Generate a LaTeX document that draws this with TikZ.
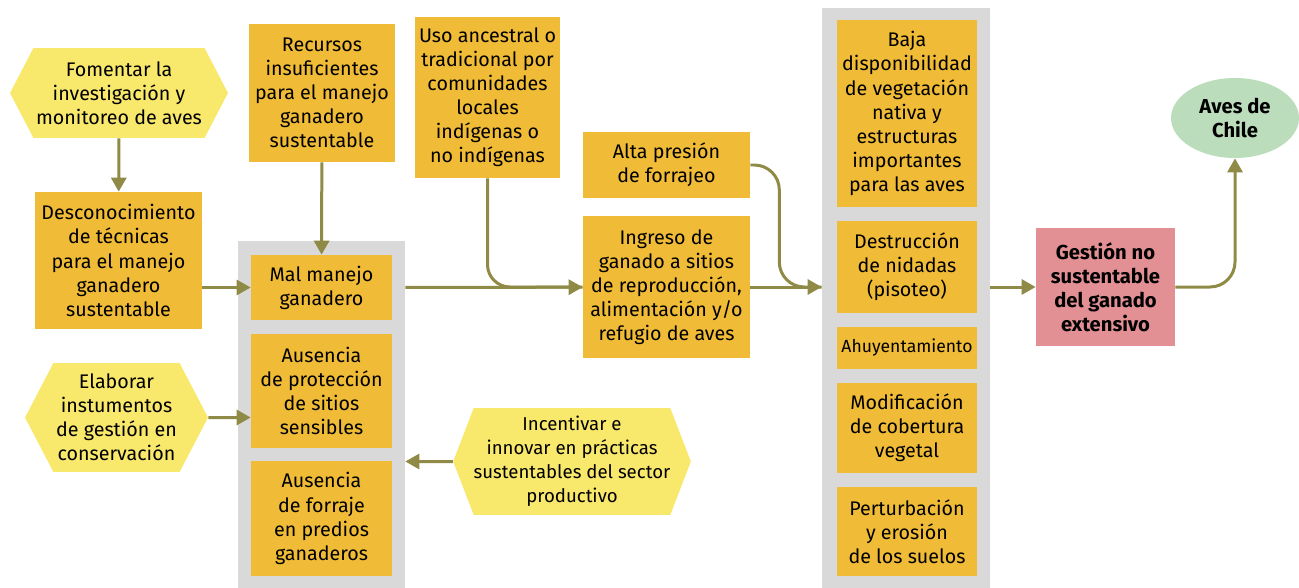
\documentclass[tikz,border=0pt]{standalone}
\usepackage{fontspec}
\setmainfont{Fira Sans}
\usetikzlibrary{shapes.symbols,shapes.geometric,arrows.meta}
\definecolor{caja}{HTML}{F0BC37}
\definecolor{hexa}{HTML}{F8E86C}
\definecolor{gris}{HTML}{D9D9D9}
\definecolor{rosa}{HTML}{E29094}
\definecolor{verde}{HTML}{BCDDBB}
\definecolor{oliva}{HTML}{8F8A46}
\begin{document}
\begin{tikzpicture}[x=0.02cm, y=-0.02cm,
        font=\fontsize{11.2}{13.7}\selectfont,
        caja/.style={fill=caja, align=center, inner sep=0pt},
        hexa/.style={shape=signal, signal to=west and east, signal pointer angle=125,
            fill=hexa, align=center, inner sep=0pt},
        gris/.style={fill=gris, inner sep=0pt},
        negrita/.style={font=\fontsize{11.5}{13.7}\selectfont\bfseries},
        linea/.style={draw=oliva, line width=0.06cm},
        flecha/.style={linea, -{Triangle[length=0.28cm, width=0.3cm]}}]
        \useasboundingbox (0, 0) rectangle (1299, 588);
        % columnas grises
        \node[gris, minimum width=3.34cm, minimum height=6.94cm] (col1) at (321.5, 414.5) {};
        \node[gris, minimum width=3.36cm, minimum height=11.6cm] (col2) at (906, 298) {};
        % acciones
        \node[hexa, minimum width=4.36cm, minimum height=1.8cm] (fomentar) at (119, 93)
            {Fomentar la\\investigación y\\monitoreo de aves};
        \node[hexa, minimum width=3.66cm, minimum height=2.18cm] (elaborar) at (116.5, 417.5)
            {Elaborar\\instumentos\\de gestión en\\conservación};
        \node[hexa, minimum width=4.56cm, minimum height=2.14cm, signal pointer angle=138,
            font=\fontsize{10.6}{13.7}\selectfont] (incentivar) at (572, 461.5)
            {Incentivar e\\innovar en prácticas\\sustentables del sector\\productivo};
        % causas
        \node[caja, minimum width=3.34cm, minimum height=2.74cm] (desconoc) at (118.5, 260.5)
            {Desconocimiento\\de técnicas\\para el manejo\\ganadero\\sustentable};
        \node[caja, minimum width=2.92cm, minimum height=2.76cm] (recursos) at (322, 93)
            {Recursos\\insuficientes\\para el manejo\\ganadero\\sustentable};
        \node[caja, minimum width=2.9cm, minimum height=3.22cm] (uso) at (487.5, 97.5)
            {Uso ancestral o\\tradicional por\\comunidades\\locales\\indígenas o\\no indígenas};
        \node[caja, minimum width=2.82cm, minimum height=1.3cm] (malmanejo) at (321.5, 287.5)
            {Mal manejo\\ganadero};
        \node[caja, minimum width=2.82cm, minimum height=2.28cm] (proteccion) at (321.5, 391)
            {Ausencia\\de protección\\de sitios\\sensibles};
        \node[caja, minimum width=2.82cm, minimum height=2.3cm] (forraje) at (321.5, 518.5)
            {Ausencia\\de forraje\\en predios\\ganaderos};
        \node[caja, minimum width=3.34cm, minimum height=1.32cm] (presion) at (666.5, 165)
            {Alta presión\\de forrajeo};
        \node[caja, minimum width=3.34cm, minimum height=2.84cm] (ingreso) at (666.5, 287)
            {Ingreso de\\ganado a sitios\\de reproducción,\\alimentación y/o\\refugio de aves};
        % efectos
        \node[caja, minimum width=2.8cm, minimum height=3.74cm] (baja) at (907, 113.5)
            {Baja\\disponibilidad\\de vegetación\\nativa y\\estructuras\\importantes\\para las aves};
        \node[caja, minimum width=2.8cm, minimum height=1.84cm] (nidadas) at (907, 267)
            {Destrucción\\de nidadas\\(pisoteo)};
        \node[caja, minimum width=2.8cm, minimum height=0.84cm, font=\fontsize{10}{12}\selectfont]
            (ahuyent) at (907, 348) {Ahuyentamiento};
        \node[caja, minimum width=2.8cm, minimum height=1.8cm] (cobertura) at (907, 428)
            {Modificación\\de cobertura\\vegetal};
        \node[caja, minimum width=2.8cm, minimum height=1.78cm] (suelos) at (907, 531.5)
            {Perturbación\\y erosión\\de los suelos};
        \node[caja, negrita, fill=rosa, minimum width=2.78cm, minimum height=2.36cm] (gestion) at (1105.5, 287)
            {Gestión no\\sustentable\\del ganado\\extensivo};
        \node[ellipse, negrita, fill=verde, align=center, inner sep=0pt, minimum width=2.56cm,
            minimum height=1.6cm] (aves) at (1235, 118) {Aves de\\Chile};
        % flechas
        \draw[flecha] (fomentar) -- (desconoc);
        \draw[flecha] (recursos) -- (malmanejo);
        \draw[flecha] (desconoc.east |- malmanejo) -- (malmanejo);
        \draw[flecha] (elaborar) -- (elaborar -| proteccion.west);
        \draw[flecha] (incentivar) -- (incentivar -| col1.east);
        \draw[linea, rounded corners=0.45cm] (uso) |- (ingreso);
        \draw[flecha] (col1.east |- malmanejo) -- (ingreso);
        \draw[linea, rounded corners=0.5cm] (presion.east) -- ++(29, 0) |- (col2.west |- ingreso);
        \draw[flecha] (ingreso) -- (ingreso -| col2.west);
        \draw[flecha] (col2.east |- gestion) -- (gestion);
        \draw[flecha, rounded corners=0.5cm] (gestion) -| (aves);
\end{tikzpicture}
\end{document}
